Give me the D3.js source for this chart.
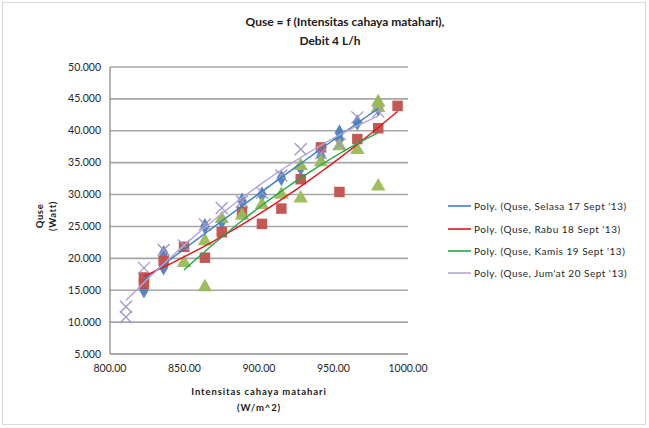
<!DOCTYPE html>
<html><head><meta charset="utf-8">
<script src="https://cdn.jsdelivr.net/npm/d3@7"></script>
<style>body{margin:0;background:#fff}svg{display:block}text{font-family:Lato,"Open Sans",sans-serif}</style>
</head><body><svg id="c" width="649" height="428"></svg>
<script>
const xTicks=[800,850,900,950,1000];
const yTicks=[5000,10000,15000,20000,25000,30000,35000,40000,45000,50000];
const seriesNames=["Selasa 17 Sept '13","Rabu 18 Sept '13","Kamis 19 Sept '13","Jum'at 20 Sept '13"];
const selasaX=[822.8,836,836,863.7,875,888.6,902,915,928,941.6,954,954,966,980,980];
const selasaY=[15000,18600,20800,25000,25800,29000,30000,32600,34200,36000,39700,38700,41300,44300,43500];
const rabuX=[822.8,822.8,836,849.7,863.7,875,888.6,902,915,928,941.6,954,966,980,993];
const rabuY=[17000,16000,19600,21800,20100,24100,27300,25400,27800,32400,37400,30400,38700,40400,43900];
const kamisX=[849.7,863.7,863.7,875,888.6,902,915,928,928,941.6,954,966,980,980,980];
const kamisY=[19300,15500,22700,26200,26700,28400,30000,29400,34500,35100,37600,37000,31300,43600,44500];
const jumatX=[810.7,810.7,822.8,836,849.7,863.7,875,888.6,902,915,928,941.6,954,966,980];
const jumatY=[12400,10800,18500,21300,22000,25300,27900,28900,30300,33000,37100,36500,37900,42100,43000];

const svg=d3.select("#c");
const x=d3.scaleLinear().domain([800,1000]).range([110,408]);
const y=d3.scaleLinear().domain([5000,50000]).range([354,67]);
const yfmt=v=>(v/1000).toFixed(3);

svg.append("rect").attr("x",2.5).attr("y",2.5).attr("width",643).attr("height",422).attr("fill","#fff").attr("stroke","#d9d9d9");

svg.append("g").selectAll("line").data(yTicks.filter(d=>d>5000)).join("line")
 .attr("x1",110).attr("x2",408).attr("y1",d=>y(d)).attr("y2",d=>y(d))
 .attr("stroke","#a6a6a6").attr("stroke-width",1.6);
svg.append("line").attr("x1",110).attr("x2",110).attr("y1",67).attr("y2",354).attr("stroke","#8c8c8c").attr("stroke-width",1.3);
svg.append("line").attr("x1",110).attr("x2",408).attr("y1",354).attr("y2",354).attr("stroke","#8c8c8c").attr("stroke-width",1.3);

svg.append("g").selectAll("text").data(yTicks).join("text")
 .attr("x",101).attr("y",d=>y(d)+3.5).attr("text-anchor","end").attr("font-size",10.5).attr("fill","#262626")
 .text(d=>yfmt(d));
svg.append("g").selectAll("text").data(xTicks).join("text")
 .attr("x",d=>x(d)).attr("y",372).attr("text-anchor","middle").attr("font-size",10.5).attr("fill","#262626")
 .text(d=>d.toFixed(2));

const t=svg.append("text").attr("text-anchor","middle").attr("font-weight","bold").attr("font-size",12).attr("fill","#1a1a1a");
t.append("tspan").attr("x",345).attr("y",26).text("Quse = f (Intensitas cahaya matahari),");
t.append("tspan").attr("x",330).attr("y",45).text("Debit 4 L/h");
const xt=svg.append("text").attr("text-anchor","middle").attr("font-weight","bold").attr("font-size",9.5).attr("letter-spacing","0.9px").attr("fill","#1a1a1a");
xt.append("tspan").attr("x",259).attr("y",395).text("Intensitas cahaya matahari");
xt.append("tspan").attr("x",259).attr("y",411).text("(W/m^2)");
const yt=svg.append("text").attr("text-anchor","middle").attr("font-weight","bold").attr("font-size",9.5).attr("letter-spacing","0.6px").attr("fill","#1a1a1a")
 .attr("transform","translate(43,216) rotate(-90)");
yt.append("tspan").attr("x",0).attr("y",0).text("Quse");
yt.append("tspan").attr("x",0).attr("y",13).text("(Watt)");

const series=[
 {name:seriesNames[0],xs:selasaX,ys:selasaY,mark:"diamond",mc:"#4f81bd",lc:"#3b7fc4"},
 {name:seriesNames[1],xs:rabuX,ys:rabuY,mark:"square",mc:"#c0504d",lc:"#e3131b"},
 {name:seriesNames[2],xs:kamisX,ys:kamisY,mark:"triangle",mc:"#9bbb59",lc:"#20a84a"},
 {name:seriesNames[3],xs:jumatX,ys:jumatY,mark:"x",mc:"#a194c8",lc:"#b3a6d6"}
];

function polyfit2(xs,ys){
 const m=d3.mean(xs);
 let S=[0,0,0,0,0],T=[0,0,0];
 xs.forEach((xv,i)=>{const u=xv-m;let p=1;for(let k=0;k<5;k++){S[k]+=p;if(k<3)T[k]+=p*ys[i];p*=u;}});
 const A=[[S[0],S[1],S[2],T[0]],[S[1],S[2],S[3],T[1]],[S[2],S[3],S[4],T[2]]];
 for(let i=0;i<3;i++){for(let j=i+1;j<3;j++){const f=A[j][i]/A[i][i];for(let k=i;k<4;k++)A[j][k]-=f*A[i][k];}}
 const c=[0,0,0];for(let i=2;i>=0;i--){let s=A[i][3];for(let k=i+1;k<3;k++)s-=A[i][k]*c[k];c[i]=s/A[i][i];}
 return v=>{const u=v-m;return c[0]+c[1]*u+c[2]*u*u;};
}

const sym={diamond:d3.symbol().type(d3.symbolDiamond).size(80),square:d3.symbol().type(d3.symbolSquare).size(110),triangle:d3.symbol().type(d3.symbolTriangle).size(90)};
const gm=svg.append("g");
series.forEach(s=>{
 const pts=s.xs.map((v,i)=>[v,s.ys[i]]);
 if(s.mark==="x"){
  gm.append("g").selectAll("path").data(pts).join("path")
   .attr("transform",d=>`translate(${x(d[0])},${y(d[1])})`)
   .attr("d","M-6,-6L6,6M-6,6L6,-6").attr("stroke",s.mc).attr("stroke-width",1.3).attr("fill","none");
 } else {
  gm.append("g").selectAll("path").data(pts).join("path")
   .attr("transform",d=>`translate(${x(d[0])},${y(d[1])})`)
   .attr("d",sym[s.mark]()).attr("fill",s.mc).attr("fill-opacity",0.95);
 }
});
const line=d3.line().x(d=>x(d[0])).y(d=>y(d[1]));
series.forEach(s=>{
 const f=polyfit2(s.xs,s.ys);
 const x0=d3.min(s.xs),x1=d3.max(s.xs);
 const pts=d3.range(0,41).map(i=>{const v=x0+(x1-x0)*i/40;return [v,f(v)];});
 svg.append("path").attr("d",line(pts)).attr("fill","none").attr("stroke",s.lc).attr("stroke-width",1.4);
});

const lg=svg.append("g");
series.forEach((s,i)=>{
 const yy=[206,229,251,273][i];
 lg.append("line").attr("x1",448).attr("x2",471).attr("y1",yy).attr("y2",yy).attr("stroke",s.lc).attr("stroke-width",1.6);
 lg.append("text").attr("x",474).attr("y",yy+3.5).attr("font-size",10).attr("letter-spacing","0.5px").attr("fill","#262626").text(`Poly. (Quse, ${s.name})`);
});
</script></body></html>
